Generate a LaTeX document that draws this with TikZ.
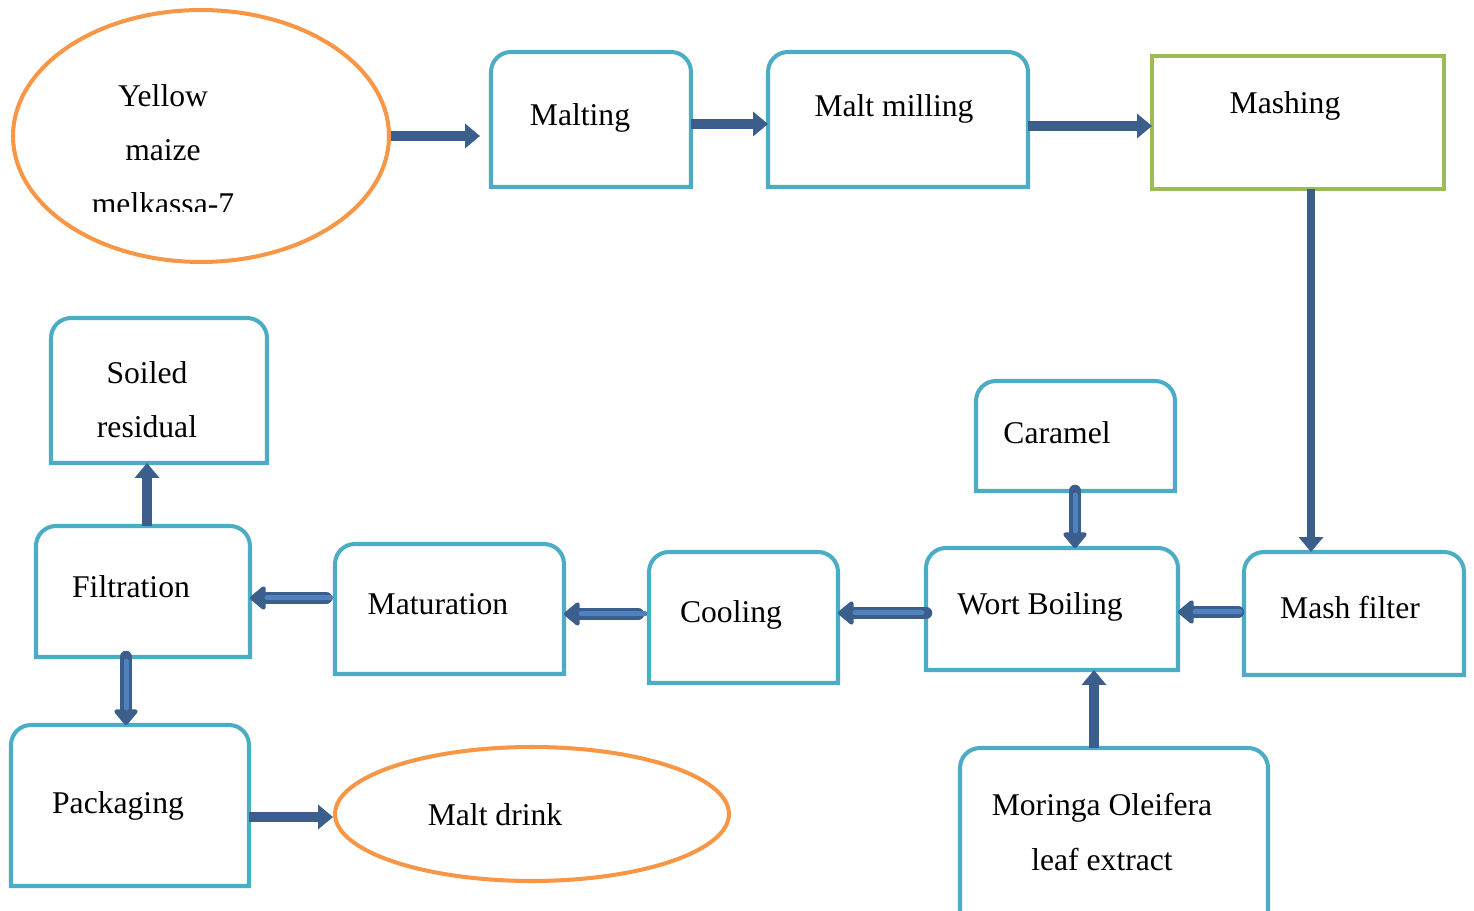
\documentclass[tikz,border=0pt]{standalone}
\usepackage{fontspec}
\setmainfont{Liberation Serif}
\usetikzlibrary{arrows.meta,fit,shapes.geometric}
\definecolor{boxblue}{RGB}{75,172,198}
\definecolor{boxgreen}{RGB}{155,187,89}
\definecolor{rimorange}{RGB}{247,150,70}
\definecolor{flowdark}{RGB}{59,94,140}
\definecolor{flowlight}{RGB}{79,129,189}
% box outline with rounded top corners only
\newcommand{\procframe}[1]{%
  \draw[draw=boxblue,line width=2.3pt] (#1.south west)
    -- ([yshift=-0.4cm]#1.north west) arc[start angle=180,end angle=90,radius=0.4cm]
    -- ([xshift=-0.4cm]#1.north east) arc[start angle=90,end angle=0,radius=0.4cm]
    -- (#1.south east) -- cycle;}

\begin{document}
\begin{tikzpicture}[x=0.02cm,y=-0.02cm,
  box/.style={inner sep=0pt,outer sep=0pt},
  txt/.style={anchor=base,font=\fontsize{18}{31}\selectfont,align=center},
  oval/.style={ellipse,draw=rimorange,line width=2.3pt,inner sep=0pt},
  flow/.style={draw=flowdark,line width=0.2cm,-{Triangle[width=0.48cm,length=0.3cm]}},
  hollow/.style={draw=flowdark,line width=0.25cm,line cap=round,
    -{Triangle[width=0.54cm,length=0.34cm,round]},
    postaction={draw=flowlight,line width=0.1cm,-,shorten >=0.34cm,shorten <=0.08cm}}]
  \useasboundingbox (0,0) rectangle (1474,911);

  % sources and product
  \node[oval,minimum width=7.52cm,minimum height=5.04cm] (maize) at (201,136) {};
  \begin{scope}
    \clip (0,0) rectangle (400,212);
    \node[txt] (maizeT) at (163,215) {Yellow\\maize\\melkassa-7};
  \end{scope}
  \node[oval,minimum width=7.88cm,minimum height=2.68cm] (drink) at (532,814) {};
  \node[txt] (drinkT) at (495,825) {Malt drink};

  % process boxes
  \node[box,fit={(491,52) (691,187)}] (malt) {};
  \node[box,fit={(768,52) (1028,187)}] (mill) {};
  \node[box,draw=boxgreen,line width=2.3pt,fit={(1152,56) (1444,189)}] (mash) {};
  \node[box,fit={(1244,552) (1464,675)}] (mfilt) {};
  \node[box,fit={(976,381) (1175,491)}] (caramel) {};
  \node[box,fit={(926,548) (1178,670)}] (wort) {};
  \node[box,fit={(960,748) (1268,930)}] (moringa) {};
  \node[box,fit={(649,552) (838,683)}] (cool) {};
  \node[box,fit={(335,544) (564,674)}] (matur) {};
  \node[box,fit={(36,526) (250,657)}] (filtr) {};
  \node[box,fit={(51,318) (267,463)}] (soil) {};
  \node[box,fit={(11,725) (249,886)}] (pack) {};
  \foreach \b in {malt,mill,mfilt,caramel,wort,moringa,cool,matur,filtr,soil,pack}
    {\procframe{\b}}

  \node[txt] (maltT) at (580,126) {Malting};
  \node[txt] (millT) at (894,117) {Malt milling};
  \node[txt] (mashT) at (1285,114) {Mashing};
  \node[txt] (mfiltT) at (1350,619) {Mash filter};
  \node[txt] (caramelT) at (1057,444) {Caramel};
  \node[txt] (wortT) at (1040,615) {Wort Boiling};
  \node[txt] (moringaT) at (1102,870) {Moringa Oleifera\\leaf extract};
  \node[txt] (coolT) at (731,623) {Cooling};
  \node[txt] (maturT) at (438,615) {Maturation};
  \node[txt] (filtrT) at (131,598) {Filtration};
  \node[txt] (soilT) at (147,438) {Soiled\\residual};
  \node[txt] (packT) at (118,813) {Packaging};

  % flow arrows
  \draw[flow,shorten >=0.22cm] (maize.east) -- (malt.west |- maize.east);
  \draw[flow] (malt.east |- 0,124) -- (mill.west |- 0,124);
  \draw[flow] (mill.east |- 0,126) -- (mash.west |- 0,126);
  \draw[flow,line width=0.16cm] (mash.south -| 1311,0) -- (mfilt.north -| 1311,0);
  \draw[hollow,shorten <=0.12cm] (mfilt.west |- 0,612) -- (wort.east |- 0,612);
  \draw[hollow] (caramel.south -| 1075,0) -- (wort.north -| 1075,0);
  \draw[flow] (moringa.north -| 1094,0) -- (wort.south -| 1094,0);
  \draw[hollow] (wort.west |- 0,613) -- (cool.east |- 0,613);
  \draw[hollow,shorten <=0.22cm] (cool.west |- 0,614) -- (matur.east |- 0,614);
  \draw[hollow,shorten <=0.18cm] (matur.west |- 0,598) -- (filtr.east |- 0,598);
  \draw[flow] (filtr.north -| 147,0) -- (soil.south -| 147,0);
  \draw[hollow] (filtr.south -| 126,0) -- (pack.north -| 126,0);
  \draw[flow] (pack.east |- 0,817) -- (drink.west |- 0,817);
\end{tikzpicture}
\end{document}
